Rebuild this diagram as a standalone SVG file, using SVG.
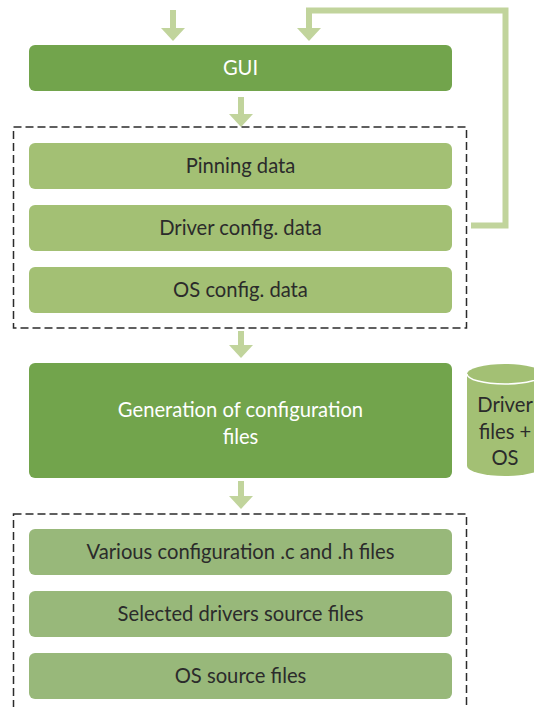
<svg xmlns="http://www.w3.org/2000/svg" width="534" height="707" viewBox="0 0 534 707">
<style>
.dark{fill:#72a44c}
.light{fill:#a3c074}
.muted{fill:#98b87a}
.t{font-family:Lato,"Liberation Sans",sans-serif;font-size:20.2px;text-anchor:middle;fill:#2b2b2b}
.w{fill:#ffffff}
.dash{fill:none;stroke:#2b2b2b;stroke-width:1.5;stroke-dasharray:8 4}
.con{fill:none;stroke:#c1d49c;stroke-width:6;stroke-linejoin:miter}
</style>
<defs>
<marker id="ah" markerUnits="userSpaceOnUse" viewBox="0 -12 13 24" refX="0" refY="0" markerWidth="13" markerHeight="24" orient="auto">
<path d="M0,-12 L13,0 L0,12 Z" fill="#c1d49c"/>
</marker>
</defs>
<rect width="534" height="707" fill="#ffffff"/>
<g id="connectors">
<path class="con" d="M173,10 V28" marker-end="url(#ah)"/>
<path class="con" d="M471,225.5 H505.5 V10.5 H309 V28" marker-end="url(#ah)"/>
<path class="con" d="M241,97 V114" marker-end="url(#ah)"/>
<path class="con" d="M241,331 V345" marker-end="url(#ah)"/>
<path class="con" d="M241,481 V496" marker-end="url(#ah)"/>
</g>
<g id="gui">
<rect class="dark" x="29" y="45" width="423" height="46" rx="6"/>
<text class="t w" x="240.5" y="75">GUI</text>
</g>
<g id="config-data">
<rect class="dash" x="13.5" y="127" width="453" height="201"/>
</g>
<g id="pinning">
<rect class="light" x="29" y="143" width="423" height="46" rx="6"/>
<text class="t" x="240.5" y="172.5">Pinning data</text>
</g>
<g id="driver-config">
<rect class="light" x="29" y="205" width="423" height="46" rx="6"/>
<text class="t" x="240.5" y="234.5">Driver config. data</text>
</g>
<g id="os-config">
<rect class="light" x="29" y="267" width="423" height="46" rx="6"/>
<text class="t" x="240.5" y="296.5">OS config. data</text>
</g>
<g id="generation">
<rect class="dark" x="29" y="363" width="423" height="115" rx="6"/>
<text class="t w" x="240.5" y="417">Generation of configuration</text>
<text class="t w" x="240.5" y="444">files</text>
</g>
<g id="driver-files">
<path class="light" d="M467,374 A38,10 0 0 1 543,374 L543,466 A38,10 0 0 1 467,466 Z"/>
<path d="M467,374 A38,10 0 0 0 543,374" fill="none" stroke="#ffffff" stroke-width="1.5"/>
<text class="t" x="505" y="412">Driver</text>
<text class="t" x="505" y="438.5">files +</text>
<text class="t" x="505" y="465">OS</text>
</g>
<g id="output-files">
<rect class="dash" x="13.5" y="514" width="453" height="220"/>
</g>
<g id="various">
<rect class="muted" x="29" y="529" width="423" height="46" rx="6"/>
<text class="t" x="240.5" y="558.5">Various configuration .c and .h files</text>
</g>
<g id="selected">
<rect class="muted" x="29" y="591" width="423" height="46" rx="6"/>
<text class="t" x="240.5" y="620.5">Selected drivers source files</text>
</g>
<g id="os-source">
<rect class="muted" x="29" y="653" width="423" height="46" rx="6"/>
<text class="t" x="240.5" y="682.5">OS source files</text>
</g>
</svg>
